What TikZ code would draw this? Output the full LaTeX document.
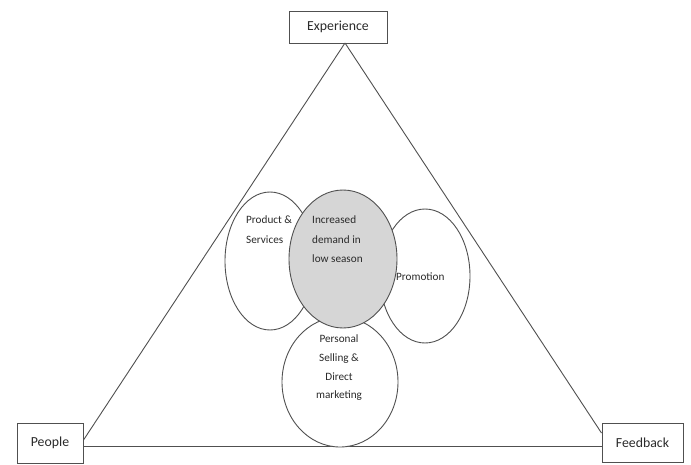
\documentclass[tikz,border=0pt]{standalone}
\usepackage{fontspec}
\setmainfont{Carlito}
\usetikzlibrary{shapes.geometric}
\definecolor{linec}{HTML}{505050}
\definecolor{textc}{HTML}{2A2A2A}
\definecolor{grayfill}{HTML}{D6D6D6}
\begin{document}
\begin{tikzpicture}[x=1pt,y=-1pt,
  boxn/.style={draw=linec,line width=1pt,inner sep=0pt,font=\fontsize{13.8}{15}\selectfont,text=textc},
  ell/.style={ellipse,draw=linec,line width=0.9pt,fill=white,inner sep=0pt},
  lbl/.style={inner sep=0pt,font=\fontsize{11.2}{19.5}\selectfont,text=textc,align=center},
  conn/.style={draw=linec,line width=0.9pt}]
\useasboundingbox (0,0) rectangle (691,464);
\fill[white] (0,0) rectangle (691,464);
% boxes
\node[boxn,minimum width=98pt,minimum height=32pt] (exp) at (338,27) {Experience};
\node[boxn,minimum width=66pt,minimum height=40pt] (ppl) at (50,443) {People};
\node[boxn,minimum width=81pt,minimum height=39pt] (fb) at (642.5,442.5) {Feedback};
\coordinate (apex) at (345,43);
% triangle
\draw[conn] (apex) -- (ppl.east |- 0,440);
\draw[conn] (ppl.east |- 0,446) -- (fb.west |- 0,446);
\draw[conn] (apex) -- (fb.west |- 0,433);
% ellipses
\node[ell,minimum width=90pt,minimum height=138pt] (prod) at (270,261) {};
\node[ell,minimum width=90pt,minimum height=134pt] (prom) at (425,276) {};
\node[ell,minimum width=116pt,minimum height=130pt] (pers) at (340,382) {};
\node[ell,fill=grayfill,minimum width=108pt,minimum height=138pt] (core) at (343,259) {};
% labels
\node[lbl,align=left,anchor=north west] (prodt) at (246,216) {Product \&\\Services};
\node[lbl,align=left,anchor=north west] (coret) at (312,216) {Increased\\demand in\\low season};
\node[lbl,anchor=west] (promt) at (396,277) {Promotion};
\node[lbl,anchor=north,font=\fontsize{11.2}{18.6}\selectfont] (perst) at (339,335) {Personal\\Selling \&\\Direct\\marketing};
\end{tikzpicture}
\end{document}
